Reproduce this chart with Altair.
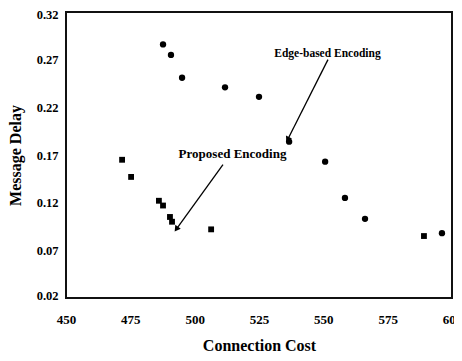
import math
import altair as alt
import pandas as pd

# Data
edge_x = [487.7, 490.8, 495.1, 511.8, 525.0, 536.7, 550.7, 558.4, 566.2, 596.1]
edge_y = [0.286, 0.275, 0.251, 0.241, 0.231, 0.184, 0.163, 0.125, 0.103, 0.088]

prop_x = [471.8, 475.3, 486.1, 487.7, 490.4, 491.2, 506.4, 589.1]
prop_y = [0.165, 0.147, 0.122, 0.117, 0.105, 0.100, 0.092, 0.085]

x_ticks = [450, 475, 500, 525, 550, 575, 600]
y_ticks = [0.02, 0.07, 0.12, 0.17, 0.22, 0.27, 0.32]

ann_text = ["Edge-based Encoding", "Proposed Encoding"]
ann_x = [551.6, 514.7]
ann_y = [0.276, 0.171]
ann_size = [11.5, 13]

arrow_x = [551.8, 511.0]
arrow_y = [0.270, 0.160]
arrow_x2 = [536.3, 493.1]
arrow_y2 = [0.187, 0.093]

FONT = "Liberation Serif"
W, H = 386, 286
xd = (450, 600)
yd = (0.02, 0.32)


def head_angle(x0, y0, x1, y1):
    dx = (x1 - x0) / (xd[1] - xd[0]) * W
    dy = -(y1 - y0) / (yd[1] - yd[0]) * H
    a = math.degrees(math.atan2(dx, -dy))
    return a % 360


edge_df = pd.DataFrame({"x": edge_x, "y": edge_y})
prop_df = pd.DataFrame({"x": prop_x, "y": prop_y})
ann_df = pd.DataFrame({"x": ann_x, "y": ann_y, "t": ann_text, "s": ann_size})
arr_df = pd.DataFrame({"x": arrow_x, "y": arrow_y, "x2": arrow_x2, "y2": arrow_y2})
arr_df["angle"] = [head_angle(a, b, c, d) for a, b, c, d in zip(arrow_x, arrow_y, arrow_x2, arrow_y2)]

xs = alt.Scale(domain=list(xd), nice=False, zero=False)
ys = alt.Scale(domain=list(yd), nice=False, zero=False)

xaxis = alt.Axis(values=x_ticks, format="d", title="Connection Cost", grid=False,
                 ticks=False, labelPadding=15, titlePadding=11, labelFlush=False,
                 labelFont=FONT, labelFontWeight="bold", labelFontSize=13, labelColor="black",
                 titleFont=FONT, titleFontWeight="bold", titleFontSize=16, titleColor="black",
                 domain=False)
yaxis = alt.Axis(values=y_ticks, format=".2f", title="Message Delay", grid=False,
                 ticks=False, labelPadding=8, titlePadding=13,
                 labelFlush=True, labelFlushOffset=4,
                 labelFont=FONT, labelFontWeight="bold", labelFontSize=12.5, labelColor="black",
                 titleFont=FONT, titleFontWeight="bold", titleFontSize=16, titleColor="black",
                 domain=False)

# plot frame drawn first, as a rectangle outline over the full value range
frame = alt.Chart(pd.DataFrame({"x": [xd[0]], "x2": [xd[1]], "y": [yd[0]], "y2": [yd[1]]})).mark_rect(
    filled=False, stroke="#111111", strokeWidth=2
).encode(
    x=alt.X("x:Q", scale=xs, axis=xaxis), y=alt.Y("y:Q", scale=ys, axis=yaxis),
    x2="x2:Q", y2="y2:Q",
)
edge = alt.Chart(edge_df).mark_point(shape="circle", filled=True, color="black", size=40, opacity=1).encode(
    x=alt.X("x:Q", scale=xs),
    y=alt.Y("y:Q", scale=ys),
)
prop = alt.Chart(prop_df).mark_point(shape="square", filled=True, color="black", size=34, opacity=1).encode(
    x=alt.X("x:Q", scale=xs),
    y=alt.Y("y:Q", scale=ys),
)
rules = alt.Chart(arr_df).mark_rule(color="black", strokeWidth=1.3).encode(
    x=alt.X("x:Q", scale=xs), y=alt.Y("y:Q", scale=ys),
    x2="x2:Q", y2="y2:Q",
)
heads = alt.Chart(arr_df).mark_point(shape="triangle", filled=True, color="black", size=45, opacity=1).encode(
    x=alt.X("x2:Q", scale=xs), y=alt.Y("y2:Q", scale=ys),
    angle=alt.Angle("angle:Q", scale=None),
)
texts = alt.Chart(ann_df).mark_text(font=FONT, fontWeight="bold", color="black", align="center",
                                    baseline="middle").encode(
    x=alt.X("x:Q", scale=xs), y=alt.Y("y:Q", scale=ys),
    text="t:N", size=alt.Size("s:Q", scale=None),
)

chart = alt.layer(frame, edge, prop, rules, heads, texts).properties(
    width=W, height=H,
    background="white",
    autosize=alt.AutoSizeParams(type="none"),
    padding={"left": 58, "top": 4, "right": 2, "bottom": 55},
).configure_view(stroke="#111111", strokeWidth=2)

chart.save("out.html", embed_options={"renderer": "svg", "actions": False})
